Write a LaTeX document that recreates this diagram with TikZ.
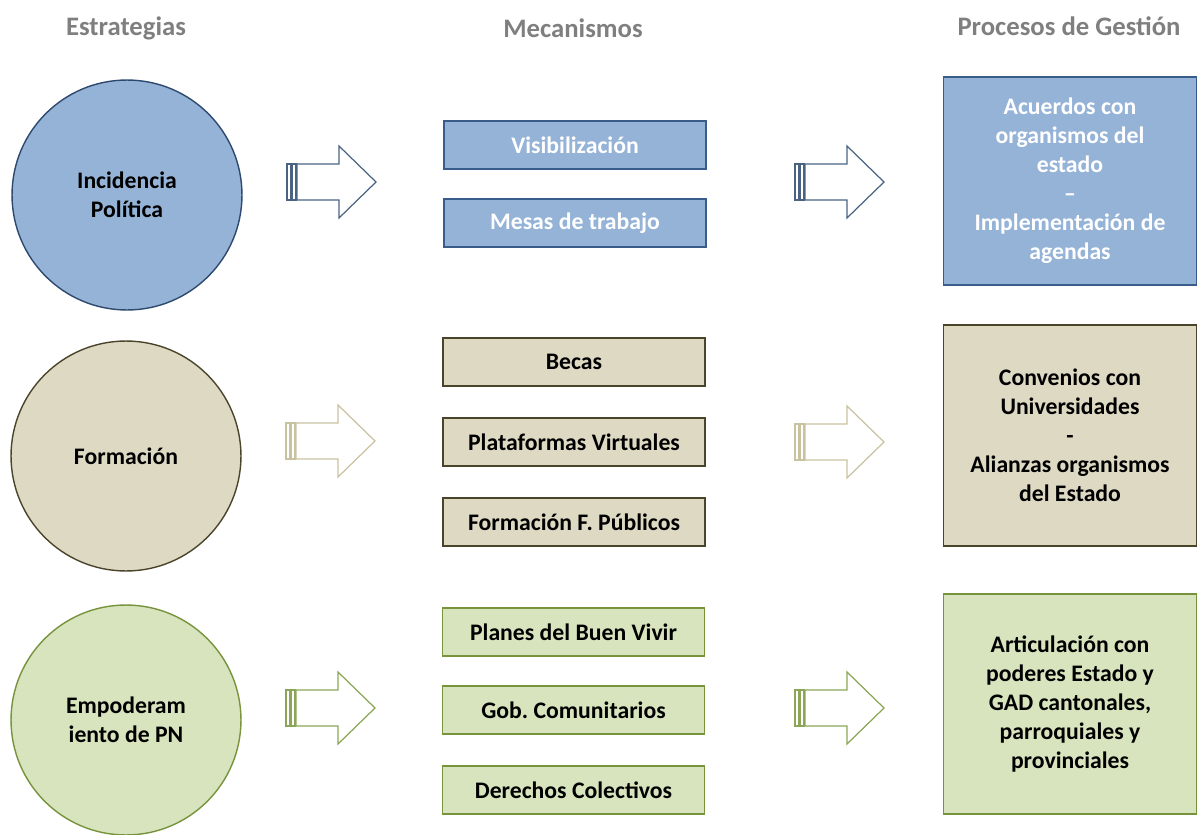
\documentclass[tikz,border=0pt]{standalone}
\usepackage{fontspec}
\setmainfont{Carlito}
\frenchspacing
\definecolor{azul}{HTML}{95B3D7}
\definecolor{azulrand}{HTML}{385D8A}
\definecolor{azulflecha}{HTML}{4A6383}
\definecolor{beige}{HTML}{DDD9C3}
\definecolor{beigerand}{HTML}{4A452A}
\definecolor{beigeflecha}{HTML}{C9C29F}
\definecolor{verde}{HTML}{D7E4BD}
\definecolor{verderand}{HTML}{77933C}
\definecolor{verdeflecha}{HTML}{8AA656}
\definecolor{gris}{HTML}{7F7F7F}
\begin{document}
\begin{tikzpicture}[x=0.02cm, y=-0.02cm,
		font=\fontsize{13.5}{16.5}\selectfont\bfseries,
		kreis/.style={circle, line width=0.8pt, minimum size=4.6cm, align=center},
		feld/.style={rectangle, line width=1pt, minimum width=5.24cm, minimum height=0.96cm},
		ziel/.style={rectangle, line width=1pt, minimum width=5.06cm, align=center},
		kopf/.style={text=gris, font=\fontsize{15.2}{18}\selectfont\bfseries}]
			\useasboundingbox (0,0) rectangle (1197,835);
			
			% Überschriften
			\node[kopf] (estrategias) at (126,28) {Estrategias};
			\node[kopf] (mecanismos) at (573,28) {Mecanismos};
			\node[kopf] (procesos) at (1069,26) {Procesos de Gestión};
			
			% Kreise (Estrategias)
			\node[kreis, fill=azul, draw=azulrand!80!black] (incidencia) at (127,195) {Incidencia\\Política};
			\node[kreis, fill=beige, draw=beigerand] (formacion) at (126,456) {Formación};
			\node[kreis, fill=verde, draw=verderand] (empoderamiento) at (126,720) {Empoderam\\iento de PN};
			
			% Kästen (Mecanismos)
			\foreach \n/\y/\t in {visib/145/Visibilización, mesas/223/Mesas de trabajo} {
				\node[feld, fill=azul, draw=azulrand, text=white] (\n) at (575,\y) {\t};
			}
			\foreach \n/\y/\t in {becas/362/Becas, plataformas/442/Plataformas Virtuales, fpublicos/522/Formación F. Públicos} {
				\node[feld, fill=beige, draw=beigerand] (\n) at (574,\y) {\t};
			}
			\foreach \n/\y/\t in {planes/632/Planes del Buen Vivir, gobcom/710/Gob. Comunitarios, derechos/790/Derechos Colectivos} {
				\node[feld, fill=verde, draw=verderand] (\n) at (573.5,\y) {\t};
			}
			
			% Kästen (Procesos de Gestión)
			\node[ziel, fill=azul, draw=azulrand, text=white, minimum height=4.16cm] (acuerdos) at (1070,181)
				{Acuerdos con\\organismos del\\estado\\–\\Implementación de\\agendas};
			\node[ziel, fill=beige, draw=beigerand, minimum height=4.42cm] (convenios) at (1070,435.5)
				{Convenios con\\Universidades\\-\\Alianzas organismos\\del Estado};
			\node[ziel, fill=verde, draw=verderand, minimum height=4.4cm] (articulacion) at (1070,704)
				{Articulación con\\poderes Estado y\\GAD cantonales,\\parroquiales y\\provinciales};
			
			% Blockpfeile
			\foreach \x/\y/\c in {287/182/azulflecha, 795/182/azulflecha, 286/441/beigeflecha, 795/442/beigeflecha, 286/708/verdeflecha, 795/708/verdeflecha} {
				\draw[\c, line width=0.7pt] (\x,\y-18) rectangle (\x+4,\y+18);
				\draw[\c, line width=0.7pt] (\x+5,\y-18) rectangle (\x+9,\y+18);
				\draw[\c, line width=0.7pt] (\x+10,\y-18) -- (\x+52,\y-18) -- (\x+52,\y-36) -- (\x+89,\y)
					-- (\x+52,\y+36) -- (\x+52,\y+18) -- (\x+10,\y+18) -- cycle;
			}
\end{tikzpicture}
\end{document}
